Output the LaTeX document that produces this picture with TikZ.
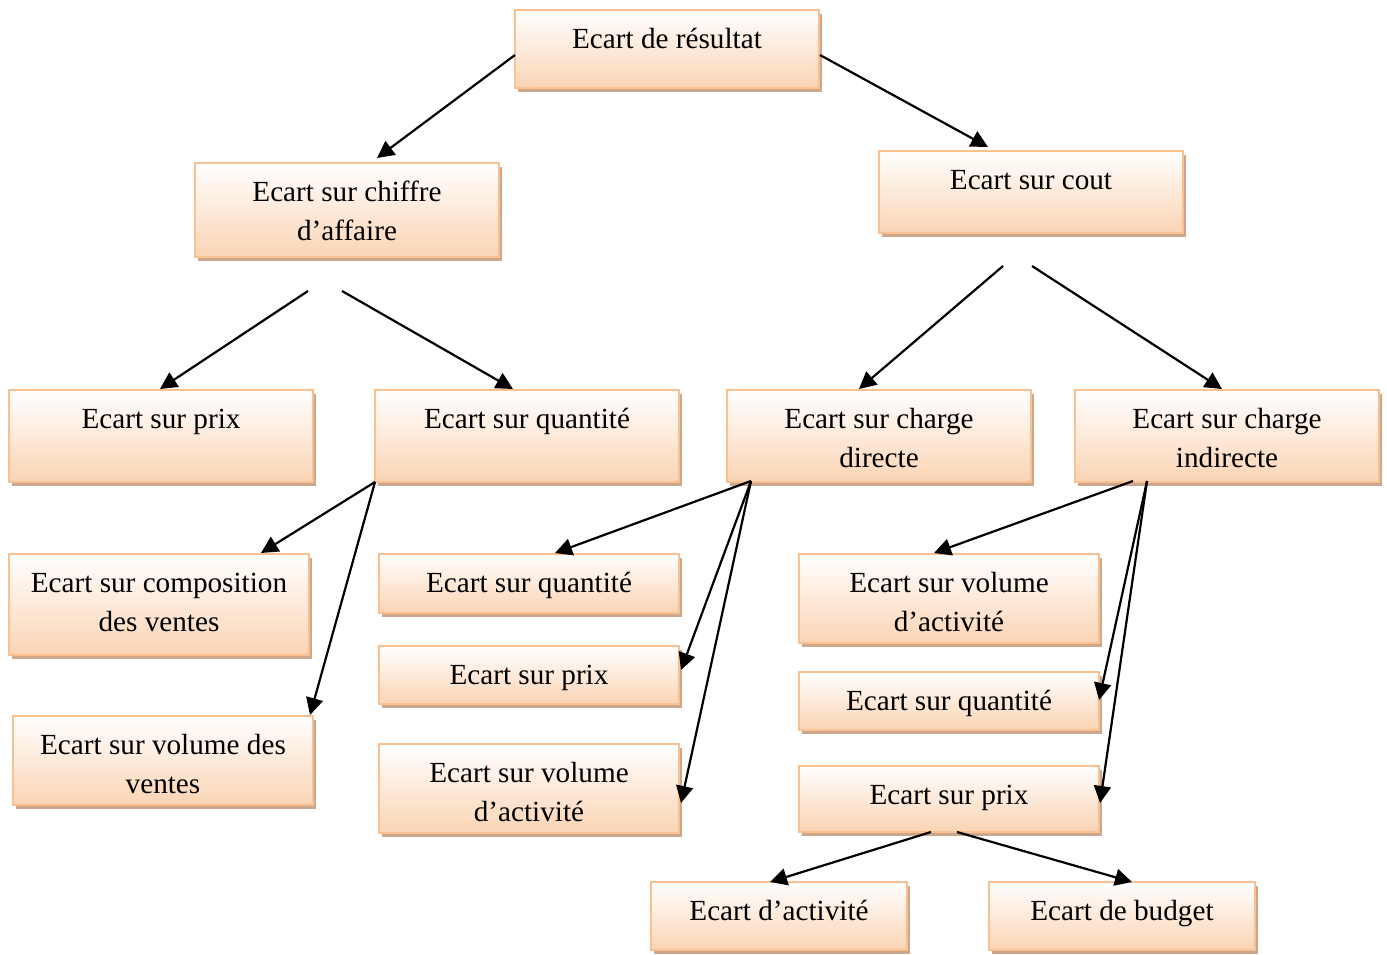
\documentclass[tikz,border=0pt]{standalone}
\usepackage{fontspec}
\setmainfont{Liberation Serif}
\usetikzlibrary{arrows.meta,calc,shadows}
\definecolor{peach}{HTML}{FBD4B4}
\definecolor{peachline}{HTML}{FAC090}
\definecolor{shadowc}{HTML}{CDA78B}
% text block of a box: fixed size, first baseline 38pt below the top
\newcommand{\bx}[3]{\parbox[c][#2pt][t]{#1pt}{\centering\rule{0pt}{38pt}#3}}
\tikzset{
  box/.style={draw=peachline, line width=1.6pt, top color=white, bottom color=peach,
    inner sep=0pt, outer sep=0pt,
    general shadow={shadow xshift=3pt, shadow yshift=-4pt, fill=shadowc}},
  arr/.style={-{Triangle[length=17pt,width=17pt]}, line width=2.2pt, black}
}
\begin{document}
\begin{tikzpicture}[x=1pt,y=-1pt, font=\fontsize{29.2}{39}\selectfont]
\useasboundingbox (0,0) rectangle (1387,954);
\fill[white] (0,0) rectangle (1387,954);

% boxes
\node[box] (n1)  at (667,49)    {\bx{304}{78}{Ecart de résultat}};
\node[box] (n2)  at (347,210)   {\bx{304}{94}{Ecart sur chiffre\\d’affaire}};
\node[box] (n3)  at (1031,192)  {\bx{304}{82}{Ecart sur cout}};
\node[box] (n4)  at (161,436)   {\bx{304}{92}{Ecart sur prix}};
\node[box] (n5)  at (527,436)   {\bx{304}{92}{Ecart sur quantité}};
\node[box] (n6)  at (879,436)   {\bx{304}{92}{Ecart sur charge\\directe}};
\node[box] (n7)  at (1227,436)  {\bx{304}{92}{Ecart sur charge\\indirecte}};
\node[box] (n8)  at (159,604.5) {\bx{300}{101}{Ecart sur composition\\des ventes}};
\node[box] (n9)  at (163,760.5) {\bx{300}{89}{Ecart sur volume des\\ventes}};
\node[box] (n10) at (529,583.5) {\bx{300}{59}{Ecart sur quantité}};
\node[box] (n11) at (529,675)   {\bx{300}{58}{Ecart sur prix}};
\node[box] (n12) at (529,788.5) {\bx{300}{89}{Ecart sur volume\\d’activité}};
\node[box] (n13) at (949,598.5) {\bx{300}{89}{Ecart sur volume\\d’activité}};
\node[box] (n14) at (949,701)   {\bx{300}{58}{Ecart sur quantité}};
\node[box] (n15) at (949,799)   {\bx{300}{66}{Ecart sur prix}};
\node[box] (n16) at (779,916)   {\bx{256}{68}{Ecart d’activité}};
\node[box] (n17) at (1122,916)  {\bx{266}{68}{Ecart de budget}};

% connectors
\draw[arr] ($(n1.west)+(0,6)$) -- ($(n2.north)+(30,-5)$);
\draw[arr] ($(n1.east)+(1,6)$) -- ($(n3.north)+(-43,-4)$);
\draw[arr] ($(n2.south)+(-39,34)$) -- ($(n4.north)+(-1,-1)$);
\draw[arr] ($(n2.south)+(-5,34)$) -- ($(n5.north)+(-14,-1)$);
\draw[arr] ($(n3.south)+(-28,33)$) -- ($(n6.north)+(-20,-1)$);
\draw[arr] ($(n3.south)+(1,33)$) -- ($(n7.north)+(-5,-1)$);
\draw[arr] (n5.south west) -- ($(n8.north)+(102,-1)$);
\draw[arr] (n5.south west) -- ($(n9.north east)+(-3,-1)$);
\draw[arr] ($(n6.south west)+(24,-1)$) -- ($(n10.north)+(26,-1)$);
\draw[arr] ($(n6.south west)+(24,-1)$) -- ($(n11.east)+(2,-5)$);
\draw[arr] ($(n6.south west)+(24,-1)$) -- ($(n12.east)+(2,14.5)$);
\draw[arr] ($(n7.south west)+(58,-1)$) -- ($(n13.north)+(-15,-1)$);
\draw[arr] ($(n7.south west)+(72,-1)$) -- ($(n14.east)+(0,-1)$);
\draw[arr] ($(n7.south west)+(72,-1)$) -- ($(n15.east)+(1,4)$);
\draw[arr] ($(n15.south)+(-18,0)$) -- ($(n16.north)+(-9,0)$);
\draw[arr] ($(n15.south)+(8,0)$) -- ($(n17.north)+(10,0)$);
\end{tikzpicture}
\end{document}
